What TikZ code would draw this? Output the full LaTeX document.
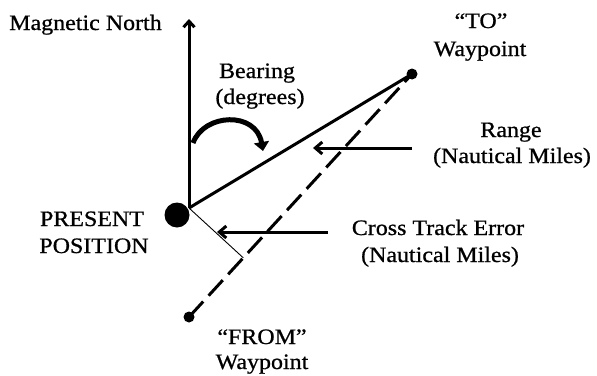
\documentclass[tikz,border=0pt]{standalone}
\usepackage{fontspec}
\setmainfont{Liberation Serif}[FakeStretch=1.09,FakeBold=0.8]
\usetikzlibrary{arrows.meta,calc}
\begin{document}
\begin{tikzpicture}[x=1pt,y=-1pt,
  lbl/.style={font=\fontsize{22}{27}\selectfont, inner sep=0pt, anchor=base},
  dotnode/.style={circle, fill=black, inner sep=0pt, minimum size=11pt},
  bigdot/.style={circle, fill=black, inner sep=0pt, minimum size=25pt},
  thickline/.style={line width=3pt},
  pointer/.style={line width=3pt, -{Straight Barb[length=7pt,width=12pt,line width=3pt]}}]
\useasboundingbox (0,0) rectangle (597,375);
% points
\node[bigdot] (pp) at (177,215) {};
\coordinate (o) at (189,208);
\node[dotnode] (to) at (412,74) {};
\node[dotnode] (from) at (189,317) {};
\coordinate (north) at (189,19);
% lines
\draw[thickline, -{Straight Barb[length=6pt,width=11pt,line width=3pt]}] (o) -- (north);
\draw[thickline] (o) -- (to.center);
\draw[thickline, dash pattern=on 21pt off 8pt] (from.center) -- (to.center);
\coordinate (foot) at ($(from.center)!(o)!(to.center)$);
\draw[line width=0.9pt] (o) -- (foot);
% bearing arrow
\coordinate (bs) at (193,143);
\coordinate (be) at (263,151);
\draw[line width=5pt, -{Triangle[length=9pt,width=15pt]}] (bs) .. controls (204,113) and (256,111) .. (be);
% range / cross track pointers
\coordinate (rs) at (412,148);
\coordinate (re) at (313,148);
\draw[pointer] (rs) -- (re);
\coordinate (cs) at (328,232);
\coordinate (ce) at (217,232);
\draw[pointer] (cs) -- (ce);
% labels
\node[lbl] (mn) at (85.5,30) {Magnetic North};
\node[lbl] (bear1) at (257,78) {Bearing};
\node[lbl] (bear2) at (260,104) {(degrees)};
\node[lbl] (to1) at (481,28) {“TO”};
\node[lbl] (to2) at (480,56) {Waypoint};
\node[lbl] (rng1) at (511,137) {Range};
\node[lbl] (rng2) at (512,163) {(Nautical Miles)};
\node[lbl] (pp1) at (92,226) {PRESENT};
\node[lbl] (pp2) at (94,253) {POSITION};
\node[lbl] (cte1) at (438,235) {Cross Track Error};
\node[lbl] (cte2) at (440,262) {(Nautical Miles)};
\node[lbl] (from1) at (262,344) {“FROM”};
\node[lbl] (from2) at (262,369) {Waypoint};
\end{tikzpicture}
\end{document}
